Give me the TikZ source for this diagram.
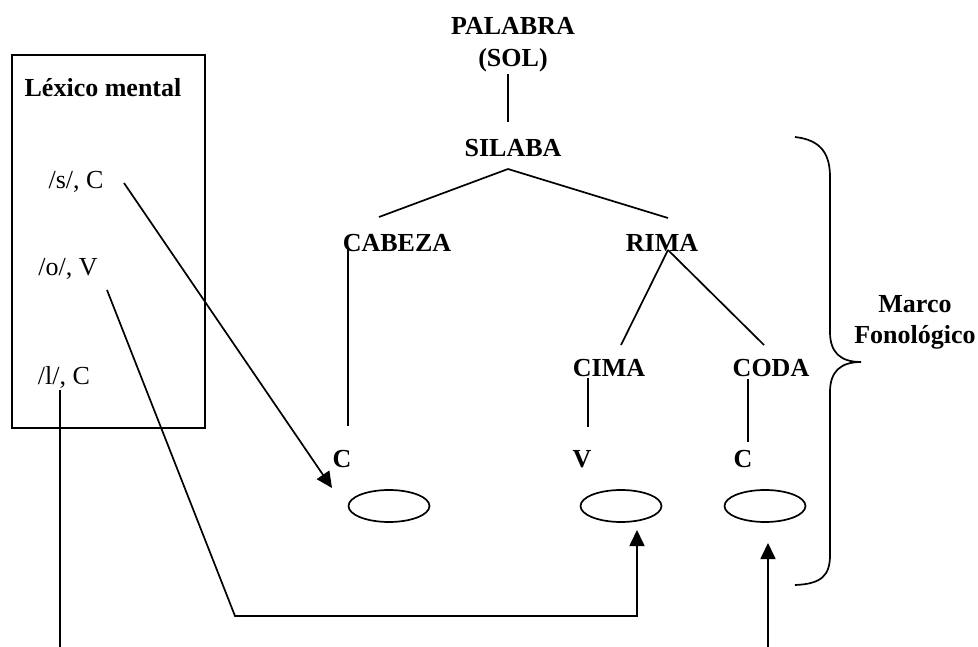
\documentclass[tikz,border=0pt]{standalone}
\usepackage{fontspec}
\setmainfont{Liberation Serif}
\usetikzlibrary{arrows.meta,shapes.geometric}
\begin{document}
\begin{tikzpicture}[x=1pt,y=-1pt,
  lbl/.style={font=\fontsize{26}{31}\selectfont\bfseries, inner sep=1pt},
  lex/.style={font=\fontsize{26}{29}\selectfont, inner sep=1pt},
  ln/.style={line width=1.7pt},
  arr/.style={line width=1.7pt, -{Triangle[length=16pt,width=15pt]}},
  slot/.style={draw, line width=1.7pt, ellipse, minimum width=81pt, minimum height=32pt, inner sep=0pt}]
\useasboundingbox (0,0) rectangle (978,647);
% lexicon box
\draw[line width=1.7pt] (12,55) rectangle (205,428);
\node[lbl] (lexhead) at (103,88) {Léxico mental};
\node[lex] (s) at (76,182) {/s/, C};
\node[lex] (o) at (68,269) {/o/, V};
\node[lex] (l) at (64,377) {/l/, C};
% tree
\node[lbl, align=center, font=\fontsize{26}{32}\selectfont\bfseries] (pal) at (513,45) {PALABRA\\(SOL)};
\node[lbl] (sil) at (513,148) {SILABA};
\node[lbl] (cab) at (397,243) {CABEZA};
\node[lbl] (rima) at (662,243) {RIMA};
\node[lbl] (cima) at (609,368) {CIMA};
\node[lbl] (coda) at (771,368) {CODA};
\node[lbl] (c1) at (342,459) {C};
\node[lbl] (v) at (582,459) {V};
\node[lbl] (c2) at (743,459) {C};
\node[slot] (e1) at (389,506) {};
\node[slot] (e2) at (621,506) {};
\node[slot] (e3) at (765,506) {};
% tree lines
\coordinate (p1) at (508,74); \coordinate (p2) at (508,122);
\draw[ln] (p1) -- (p2);
\coordinate (s1) at (508,169); \coordinate (s2) at (379,217); \coordinate (s3) at (668,218);
\draw[ln] (s1) -- (s2);
\draw[ln] (s1) -- (s3);
\coordinate (ca1) at (348,247); \coordinate (ca2) at (348,426);
\draw[ln] (ca1) -- (ca2);
\coordinate (r0) at (668,250); \coordinate (r1) at (621,345); \coordinate (r2) at (764,345);
\draw[ln] (r0) -- (r1);
\draw[ln] (r0) -- (r2);
\coordinate (ci1) at (588,378); \coordinate (ci2) at (588,427);
\draw[ln] (ci1) -- (ci2);
\coordinate (co1) at (748,379); \coordinate (co2) at (748,442);
\draw[ln] (co1) -- (co2);
% arrows from lexicon
\coordinate (sa) at (124,183); \coordinate (sb) at (332,488);
\draw[arr] (sa) -- (sb);
\coordinate (oa) at (107,290); \coordinate (ob) at (235,616); \coordinate (oc) at (637,616); \coordinate (od) at (637,530);
\draw[arr] (oa) -- (ob) -- (oc) -- (od);
\coordinate (la) at (60,390); \coordinate (lb) at (60,647);
\draw[ln] (la) -- (lb);
\coordinate (ca) at (768,647); \coordinate (cb) at (768,543);
\draw[arr] (ca) -- (cb);
% brace
\draw[line width=1.7pt] (795,137) .. controls (822,140) and (830,155) .. (830,177) -- (830,332)
  .. controls (830,352) and (840,362) .. (861,362)
  .. controls (840,362) and (830,372) .. (830,392) -- (830,555)
  .. controls (830,575) and (822,584) .. (795,585);
\node[lbl, align=center] (marco) at (915,322) {Marco\\Fonológico};
\end{tikzpicture}
\end{document}
